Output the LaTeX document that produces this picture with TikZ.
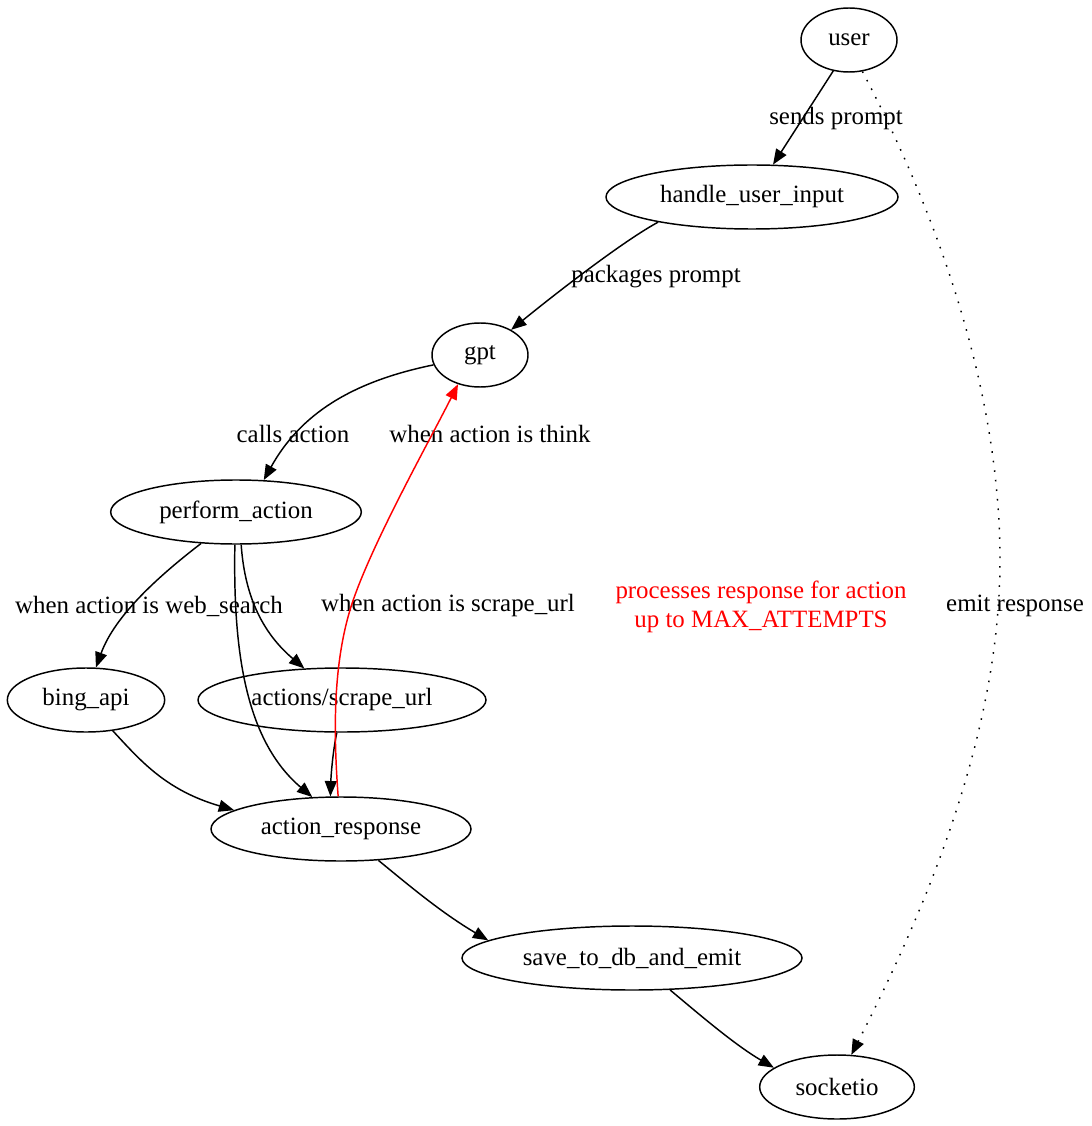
\documentclass[tikz,border=0pt]{standalone}
\usepackage{fontspec}
\setmainfont{Liberation Serif}
\usepackage{xcolor}
\usetikzlibrary{arrows.meta,shapes.geometric}

\begin{document}
\begin{tikzpicture}[x=0.75pt,y=0.75pt,yscale=-1,xscale=1,
  state/.style={draw,ellipse,line width=1.1pt,inner sep=0pt,minimum height=48pt,font=\fontsize{18.67}{22}\selectfont},
  lbl/.style={inner sep=0pt,font=\fontsize{18.67}{22}\selectfont},
  flow/.style={line width=1.1pt,-{Triangle[length=11.5pt,width=9pt]}}]
\useasboundingbox (0,0) rectangle (1091,1126);

% Nodes
\node [state,minimum width=72pt]  (user)    at (849,40)   {user};
\node [state,minimum width=219pt] (handle)  at (752,197)  {handle\_user\_input};
\node [state,minimum width=72pt]  (gpt)     at (480,355)  {gpt};
\node [state,minimum width=188pt] (perform) at (236,512)  {perform\_action};
\node [state,minimum width=118pt] (bing)    at (86,700)   {bing\_api};
\node [state,minimum width=216pt] (scrape)  at (342,700)  {actions/scrape\_url};
\node [state,minimum width=195pt] (resp)    at (341,829)  {action\_response};
\node [state,minimum width=255pt] (save)    at (632,958)  {save\_to\_db\_and\_emit};
\node [state,minimum width=116pt] (socket)  at (837,1087) {socketio};

% Edge labels
\node [lbl] (lsends)   at (836,119) {sends prompt};
\node [lbl] (lpack)    at (656,277) {packages prompt};
\node [lbl] (lcalls)   at (293,434) {calls action};
\node [lbl] (lthink)   at (490,434) {when action is think};
\node [lbl] (lweb)     at (149,606) {when action is web\_search};
\node [lbl] (lscrape)  at (448,606) {when action is scrape\_url};
\node [lbl,red,align=center] (lproc) at (761,607) {processes response for action\\up to MAX\_ATTEMPTS};
\node [lbl] (lemit)    at (1015,606) {emit response};

% Edges
\draw [flow] (user.243) -- (handle.57);
\draw [flow] (handle.195) .. controls (625,240) and (560,290) .. (gpt.39);
\draw [flow] (gpt.192) .. controls (350,382) and (300,415) .. (perform.49);
\draw [flow] (perform.222) .. controls (160,575) and (115,615) .. (bing.73);
\draw [flow] (perform.279) .. controls (245,600) and (265,635) .. (scrape.140);
\draw [flow] (perform.268) .. controls (233,650) and (245,740) .. (resp.132);
\draw [flow] (bing.311) .. controls (140,760) and (165,790) .. (resp.170);
\draw [flow] (scrape.261) .. controls (333,750) and (331,775) .. (resp.108);
\draw [flow] (resp.320) .. controls (405,882) and (440,912) .. (save.173);
\draw [flow] (save.320) .. controls (700,1015) and (735,1045) .. (socket.163);

% Red loop back to gpt
\draw [flow,red] (resp.95) .. controls (334,740) and (332,670) .. (350,610) .. controls (368,550) and (430,440) .. (gpt.233);

% Dotted emit edge
\draw [flow,dash pattern={on 1.2pt off 6pt}] (user.293) .. controls (930,200) and (1000,380) .. (1000,560) .. controls (1000,740) and (920,920) .. (socket.66);

\end{tikzpicture}
\end{document}
